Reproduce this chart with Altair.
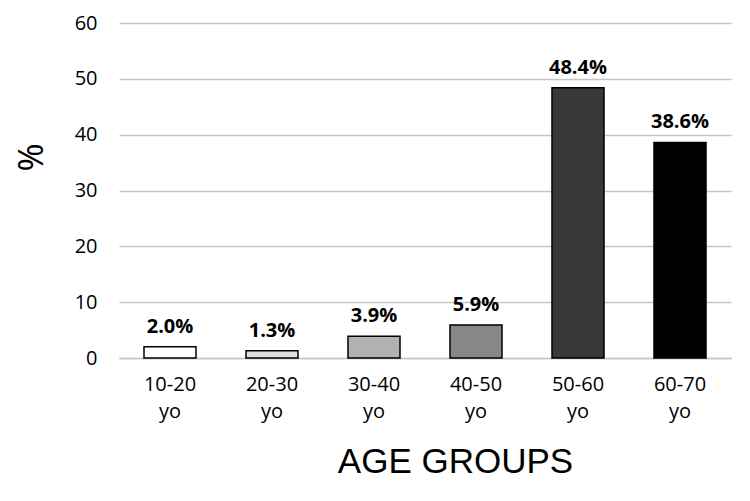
import altair as alt
import pandas as pd

# Share of patients by age group (%)
groups = ["10-20 yo", "20-30 yo", "30-40 yo", "40-50 yo", "50-60 yo", "60-70 yo"]
shares = [2.0, 1.3, 3.9, 5.9, 48.4, 38.6]
fills = ["#ffffff", "#dedede", "#b1b1b1", "#878787", "#383838", "#000000"]

df = pd.DataFrame({"group": groups, "share": shares})
df["label"] = [f"{v:.1f}%" for v in shares]

x = alt.X(
    "group:N",
    sort=groups,
    scale=alt.Scale(paddingInner=0.49, paddingOuter=0.245),
    axis=alt.Axis(
        title="AGE GROUPS",
        titleFont="Liberation Sans",
        titleFontSize=35,
        titleFontWeight="normal",
        titleColor="#000000",
        titleX=336,
        titleY=114,
        titleAnchor="start",
        titleAlign="center",
        titleBaseline="alphabetic",
        labelExpr="split(datum.label, ' ')",
        labelFont="Open Sans",
        labelFontSize=20,
        labelColor="#000000",
        labelLineHeight=27,
        labelPadding=16,
        labelAngle=0,
        labelBaseline="top",
        ticks=False,
        domainColor="#c6c6c6",
        domainWidth=1.5,
        grid=False,
    ),
)

y = alt.Y(
    "share:Q",
    scale=alt.Scale(domain=[0, 60]),
    axis=alt.Axis(
        title="%",
        titleFont="Open Sans",
        titleFontSize=34,
        titleFontWeight="normal",
        titleColor="#000000",
        titleAngle=270,
        titleX=-87,
        titleY=134,
        titleAlign="center",
        titleBaseline="middle",
        values=[0, 10, 20, 30, 40, 50, 60],
        labelFont="Open Sans",
        labelFontSize=20,
        labelColor="#000000",
        labelPadding=22,
        ticks=False,
        domain=False,
        gridColor="#c6c6c6",
        gridWidth=1.5,
    ),
)

bars = alt.Chart(df).mark_bar(stroke="#000000", strokeWidth=1.5).encode(
    x=x,
    y=y,
    color=alt.Color("group:N", scale=alt.Scale(domain=groups, range=fills), legend=None),
)

labels = alt.Chart(df).mark_text(
    font="Open Sans",
    fontSize=20,
    fontWeight="bold",
    color="#000000",
    baseline="alphabetic",
    dy=-14,
).encode(
    x=alt.X("group:N", sort=groups),
    y=alt.Y("share:Q"),
    text="label:N",
)

chart = (
    alt.layer(bars, labels)
    .properties(
        width=612,
        height=335,
        autosize=alt.AutoSizeParams(type="none"),
        padding={"left": 119, "top": 23, "right": 19, "bottom": 143},
        background="#ffffff",
    )
    .configure_view(stroke=None)
)

chart.save("out.html", embed_options={"renderer": "svg", "actions": False})
